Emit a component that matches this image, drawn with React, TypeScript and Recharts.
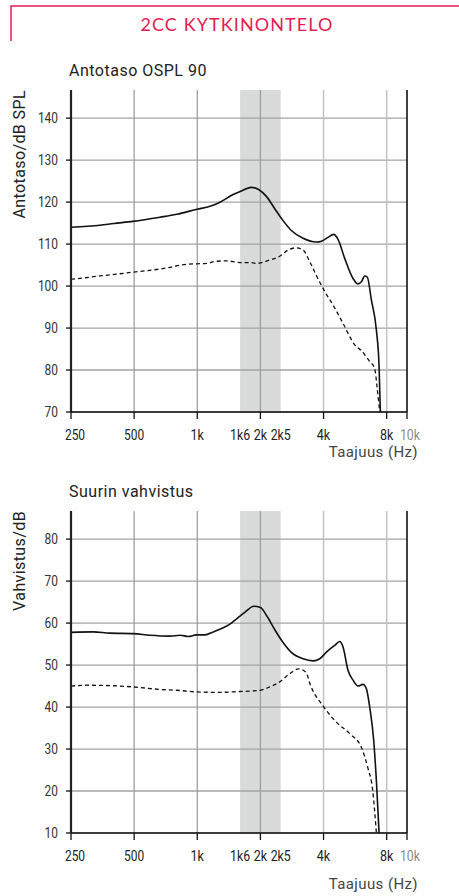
import React from 'react';
import { LineChart, Line, XAxis, YAxis, ReferenceLine, ReferenceArea } from 'recharts';

// ---- axis / tick definitions ----
const freqTicks = [250, 500, 1000, 1600, 2000, 2500, 4000, 8000, 10000];
const freqTickLabels = ['250', '500', '1k', '1k6', '2k', '2k5', '4k', '8k', '10k'];
const freqTickMarks = [250, 500, 1000, 2000, 4000, 8000, 10000];
const gridFreqsDark = [500, 1000, 2000];
const gridFreqsLight = [4000, 8000];
const bandFreqs = [1600, 2500];
const freqDomain = [250, 10000];

const osplTicks = [70, 80, 90, 100, 110, 120, 130, 140];
const osplDomain = [70, 146.7];
const gainTicks = [10, 20, 30, 40, 50, 60, 70, 80];
const gainDomain = [10, 86.7];

// ---- OSPL 90 (solid) ----
const osplSolidFreq = [250, 344, 400, 493, 665, 798, 1000, 1130, 1261, 1380, 1430, 1600, 1810, 1960, 2140, 2350, 2555, 2800, 3195, 3700, 3910, 4205, 4472, 4690, 5045, 5530, 5840, 6060, 6285, 6470, 6763, 7145, 7360, 7465];
const osplSolidDb = [114.0, 114.5, 114.9, 115.4, 116.4, 117.1, 118.3, 118.9, 119.8, 120.9, 121.4, 122.5, 123.5, 123.0, 121.3, 118.3, 115.7, 113.3, 111.4, 110.5, 110.7, 111.6, 112.3, 111.1, 106.6, 101.8, 100.5, 101.0, 102.4, 102.1, 96.7, 89.5, 80.8, 70];

// ---- OSPL 90 (dashed) ----
const osplDashFreq = [250, 344, 493, 715, 889, 1106, 1229, 1380, 1600, 1780, 1916, 2217, 2474, 2711, 2949, 3195, 3439, 3725, 4000, 4440, 4955, 5633, 6060, 6640, 7013, 7196, 7410];
const osplDashDb = [101.6, 102.4, 103.3, 104.3, 105.2, 105.4, 105.9, 106.0, 105.6, 105.6, 105.4, 106.2, 107.1, 108.6, 109.1, 108.6, 105.8, 102.2, 99.2, 95.5, 91.1, 86.0, 84.6, 82.0, 80.4, 76.0, 70];

// ---- Max gain (solid) ----
const gainSolidFreq = [250, 319, 383, 493, 595, 739, 830, 908, 990, 1090, 1190, 1330, 1455, 1540, 1690, 1860, 2000, 2140, 2350, 2555, 2800, 3195, 3565, 3837, 4130, 4522, 4776, 4955, 5235, 5530, 5840, 6170, 6400, 6640, 6937, 7145, 7360];
const gainSolidDb = [57.8, 57.9, 57.6, 57.5, 57.1, 56.9, 57.1, 56.8, 57.2, 57.2, 57.9, 58.9, 60.0, 61.0, 62.6, 64.0, 63.7, 61.8, 58.3, 55.5, 53.1, 51.5, 51.0, 51.5, 53.1, 54.7, 55.6, 54.3, 48.7, 46.4, 45.0, 45.4, 44.4, 40.0, 32.1, 22.5, 10];

// ---- Max gain (dashed) ----
const gainDashFreq = [250, 296, 383, 493, 665, 798, 1000, 1280, 1600, 1780, 2000, 2217, 2474, 2765, 3044, 3290, 3490, 3960, 4600, 5350, 6060, 6500, 6860, 7145];
const gainDashDb = [45.0, 45.2, 45.1, 44.8, 44.2, 44.0, 43.6, 43.5, 43.7, 43.8, 44.0, 44.8, 46.0, 48.0, 49.1, 48.3, 44.8, 40.4, 36.4, 33.6, 30.4, 25.6, 20.2, 10];

// ---- texts ----
const headerTitle = '2CC KYTKINONTELO';
const chart1Title = 'Antotaso OSPL 90';
const chart1YLabel = 'Antotaso/dB SPL';
const chart2Title = 'Suurin vahvistus';
const chart2YLabel = 'Vahvistus/dB';
const xLabel = 'Taajuus (Hz)';

const zip = (fs: number[], vs: number[]) => fs.map((f, i) => ({ f, v: vs[i] }));

const TICK_FONT = "Roboto, 'Noto Sans', sans-serif";
const TEXT_FONT = "Roboto, 'Noto Sans', sans-serif";
const ACCENT = '#e31c52';
const CHAR_W = 6.7; // condensed glyph width for tick labels

const FreqTick = (props: any) => {
  const { x, y, payload } = props;
  const idx = freqTicks.indexOf(payload.value);
  const label = freqTickLabels[idx];
  const hasMark = freqTickMarks.includes(payload.value);
  const dx = payload.value === 250 ? 4 : payload.value === 10000 ? 3 : 0;
  return (
    <g>
      {hasMark && <line x1={x} x2={x} y1={y - 7} y2={y} stroke="#111" strokeWidth={1.3} />}
      <text
        x={x + dx}
        y={y + 21}
        textAnchor="middle"
        fontFamily={TICK_FONT}
        fontSize={15}
        textLength={label.length * CHAR_W}
        lengthAdjust="spacingAndGlyphs"
        fill={payload.value === 10000 ? '#8a8a8a' : '#222'}
      >
        {label}
      </text>
    </g>
  );
};

const ValueTick = (props: any) => {
  const { x, y, payload } = props;
  const label = String(payload.value);
  return (
    <text
      x={x}
      y={y + 5}
      textAnchor="end"
      fontFamily={TICK_FONT}
      fontSize={15}
      textLength={label.length * CHAR_W}
      lengthAdjust="spacingAndGlyphs"
      fill="#333"
    >
      {label}
    </text>
  );
};

type PanelProps = {
  width: number;
  height: number;
  margin: { top: number; right: number; bottom: number; left: number };
  domain: number[];
  ticks: number[];
  solid: { f: number; v: number }[];
  dashed: { f: number; v: number }[];
};

const Panel = ({ width, height, margin, domain, ticks, solid, dashed }: PanelProps) => (
  <LineChart width={width} height={height} margin={margin}>
    <XAxis
      type="number"
      dataKey="f"
      scale="log"
      domain={freqDomain}
      ticks={freqTicks}
      interval={0}
      allowDataOverflow
      tickLine={false}
      tickSize={7}
      tickMargin={0}
      tick={<FreqTick />}
      axisLine={{ stroke: '#111', strokeWidth: 1.6 }}
      height={30}
    />
    <YAxis
      type="number"
      dataKey="v"
      domain={domain}
      ticks={ticks}
      interval={0}
      allowDataOverflow
      width={71}
      tickSize={5}
      tickMargin={8}
      tickLine={{ stroke: '#111', strokeWidth: 1.3 }}
      axisLine={{ stroke: '#222', strokeWidth: 2.2 }}
      tick={<ValueTick />}
    />
    <ReferenceArea x1={bandFreqs[0]} x2={bandFreqs[1]} fill="#d9dbdb" fillOpacity={1} stroke="none" ifOverflow="hidden" />
    {ticks.map((t) => (
      <ReferenceLine key={'h' + t} y={t} stroke="#a3a3a3" strokeWidth={1.3} />
    ))}
    {gridFreqsDark.map((f) => (
      <ReferenceLine key={'vd' + f} x={f} stroke="#9e9e9e" strokeWidth={1.3} />
    ))}
    {gridFreqsLight.map((f) => (
      <ReferenceLine key={'vl' + f} x={f} stroke="#c2c2c2" strokeWidth={1.5} />
    ))}
    <ReferenceLine x={freqDomain[1]} stroke="#111" strokeWidth={1.6} />
    <Line
      data={dashed}
      dataKey="v"
      type="monotone"
      stroke="#111"
      strokeWidth={1.3}
      strokeDasharray="4 3"
      dot={false}
      activeDot={false}
      isAnimationActive={false}
    />
    <Line
      data={solid}
      dataKey="v"
      type="monotone"
      stroke="#111"
      strokeWidth={1.6}
      dot={false}
      activeDot={false}
      isAnimationActive={false}
    />
  </LineChart>
);

export default function App() {
  const osplSolid = zip(osplSolidFreq, osplSolidDb);
  const osplDash = zip(osplDashFreq, osplDashDb);
  const gainSolid = zip(gainSolidFreq, gainSolidDb);
  const gainDash = zip(gainDashFreq, gainDashDb);

  return (
    <div style={{ position: 'absolute', left: 0, top: 0, width: 459, height: 896, background: '#fff', overflow: 'hidden' }}>
      <div style={{ position: 'absolute', left: 0, top: 0 }}>
        <Panel
          width={459}
          height={470}
          margin={{ top: 90, right: 52, bottom: 28, left: 0 }}
          domain={osplDomain}
          ticks={osplTicks}
          solid={osplSolid}
          dashed={osplDash}
        />
      </div>
      <div style={{ position: 'absolute', left: 0, top: 470 }}>
        <Panel
          width={459}
          height={426}
          margin={{ top: 41, right: 52, bottom: 33, left: 0 }}
          domain={gainDomain}
          ticks={gainTicks}
          solid={gainSolid}
          dashed={gainDash}
        />
      </div>
      <svg width={459} height={896} style={{ position: 'absolute', left: 0, top: 0, pointerEvents: 'none' }}>
        <polyline points="11,41 11,6 459,6" fill="none" stroke={ACCENT} strokeWidth={1.5} />
        <text x={237} y={31} textAnchor="middle" fontFamily="Lato, 'Open Sans', sans-serif" fontSize={18} letterSpacing={1.1} fill={ACCENT}>
          {headerTitle}
        </text>
        <text x={69} y={76} fontFamily={TEXT_FONT} fontSize={16} letterSpacing={0.5} fill="#222">
          {chart1Title}
        </text>
        <text x={25} y={90} transform="rotate(-90 25 90)" textAnchor="end" fontFamily={TEXT_FONT} fontSize={16} letterSpacing={0.4} fill="#222">
          {chart1YLabel}
        </text>
        <text x={418} y={457} textAnchor="end" fontFamily={TEXT_FONT} fontSize={15} letterSpacing={0.4} fill="#444">
          {xLabel}
        </text>
        <text x={69} y={497} fontFamily={TEXT_FONT} fontSize={16} letterSpacing={0.5} fill="#222">
          {chart2Title}
        </text>
        <text x={25} y={511} transform="rotate(-90 25 511)" textAnchor="end" fontFamily={TEXT_FONT} fontSize={16} letterSpacing={0.4} fill="#222">
          {chart2YLabel}
        </text>
        <text x={418} y={889} textAnchor="end" fontFamily={TEXT_FONT} fontSize={15} letterSpacing={0.4} fill="#444">
          {xLabel}
        </text>
      </svg>
    </div>
  );
}
